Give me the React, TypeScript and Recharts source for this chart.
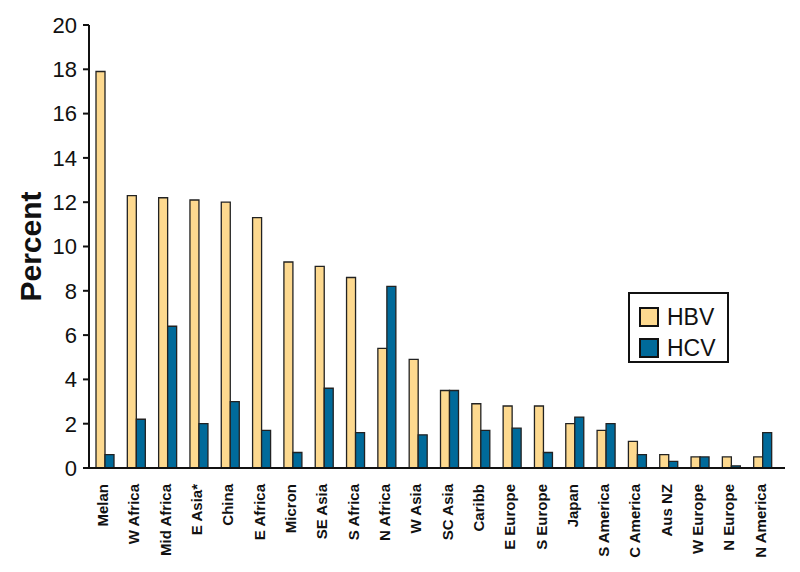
import React from 'react';
import { BarChart, Bar, XAxis, YAxis, Legend } from 'recharts';

const regions = [
    'Melan', 'W Africa', 'Mid Africa', 'E Asia*', 'China', 'E Africa', 'Micron', 'SE Asia',
    'S Africa', 'N Africa', 'W Asia', 'SC Asia', 'Caribb', 'E Europe', 'S Europe', 'Japan',
    'S America', 'C America', 'Aus NZ', 'W Europe', 'N Europe', 'N America',
];
const hbv = [17.9, 12.3, 12.2, 12.1, 12.0, 11.3, 9.3, 9.1, 8.6, 5.4, 4.9, 3.5, 2.9, 2.8, 2.8, 2.0, 1.7, 1.2, 0.6, 0.5, 0.5, 0.5];
const hcv = [0.6, 2.2, 6.4, 2.0, 3.0, 1.7, 0.7, 3.6, 1.6, 8.2, 1.5, 3.5, 1.7, 1.8, 0.7, 2.3, 2.0, 0.6, 0.3, 0.5, 0.1, 1.6];
const yTicks = [0, 2, 4, 6, 8, 10, 12, 14, 16, 18, 20];

const HBV_COLOR = '#fdd98f';
const HCV_COLOR = '#006a9a';
const FONT = '"Liberation Sans", Arial, Helvetica, sans-serif';

const data = regions.map((name, i) => ({ name, HBV: hbv[i], HCV: hcv[i] }));

// rotated bold category labels under the axis
const RegionTick = (props: any) => {
    const { x, y, payload } = props;
    return (
        <g transform={`translate(${x - 2},${y})`}>
            <text transform="rotate(-90)" x={-8} y={0} dy="0.36em" textAnchor="end"
                fontFamily={FONT} fontSize={15} fontWeight="bold" fill="#111">
                {payload.value}
            </text>
        </g>
    );
};

const LegendBox = () => (
    <div style={{
        width: 101, height: 71, boxSizing: 'border-box', border: '2px solid #111', background: '#fff',
        fontFamily: FONT, fontSize: 23, color: '#111', padding: '9px 0 0 9px',
    }}>
        {[['HBV', HBV_COLOR], ['HCV', HCV_COLOR]].map(([label, color]) => (
            <div key={label} style={{ display: 'flex', alignItems: 'center', height: 28, marginBottom: 3 }}>
                <span style={{ width: 20, height: 20, boxSizing: 'border-box', border: '2px solid #111', background: color, marginRight: 8 }} />
                <span>{label}</span>
            </div>
        ))}
    </div>
);

export default function App() {
    return (
        <div style={{ position: 'absolute', left: 0, top: 0, width: 800, height: 572, background: '#fff' }}>
            <BarChart width={800} height={572} data={data} barGap={0} barSize={9}
                margin={{ top: 25, right: 15, bottom: 0, left: 0 }}>
                <XAxis
                    dataKey="name"
                    interval={0}
                    height={104}
                    tick={<RegionTick />}
                    tickLine={false}
                    axisLine={{ stroke: '#111', strokeWidth: 2 }}
                    padding={{ left: 0, right: 7 }}
                />
                <YAxis
                    width={89}
                    domain={[0, 20]}
                    ticks={yTicks}
                    interval={0}
                    tickSize={6}
                    tickMargin={6}
                    axisLine={{ stroke: '#111', strokeWidth: 2 }}
                    tickLine={{ stroke: '#111', strokeWidth: 2 }}
                    tick={{ fontSize: 22, fill: '#111', fontFamily: FONT }}
                    label={{ value: 'Percent', angle: -90, position: 'insideLeft', offset: 0, dx: 30,
                        style: { fontSize: 30, fontWeight: 'bold', fill: '#111', fontFamily: FONT, textAnchor: 'middle' } }}
                />
                <Legend layout="vertical" align="center" verticalAlign="middle"
                    wrapperStyle={{ left: 628, top: 292, width: 101, height: 71 }}
                    content={() => <LegendBox />} />
                <Bar dataKey="HBV" fill={HBV_COLOR} stroke="#222" strokeWidth={1.3} isAnimationActive={false} />
                <Bar dataKey="HCV" fill={HCV_COLOR} stroke="#222" strokeWidth={1.3} isAnimationActive={false} />
            </BarChart>
        </div>
    );
}
